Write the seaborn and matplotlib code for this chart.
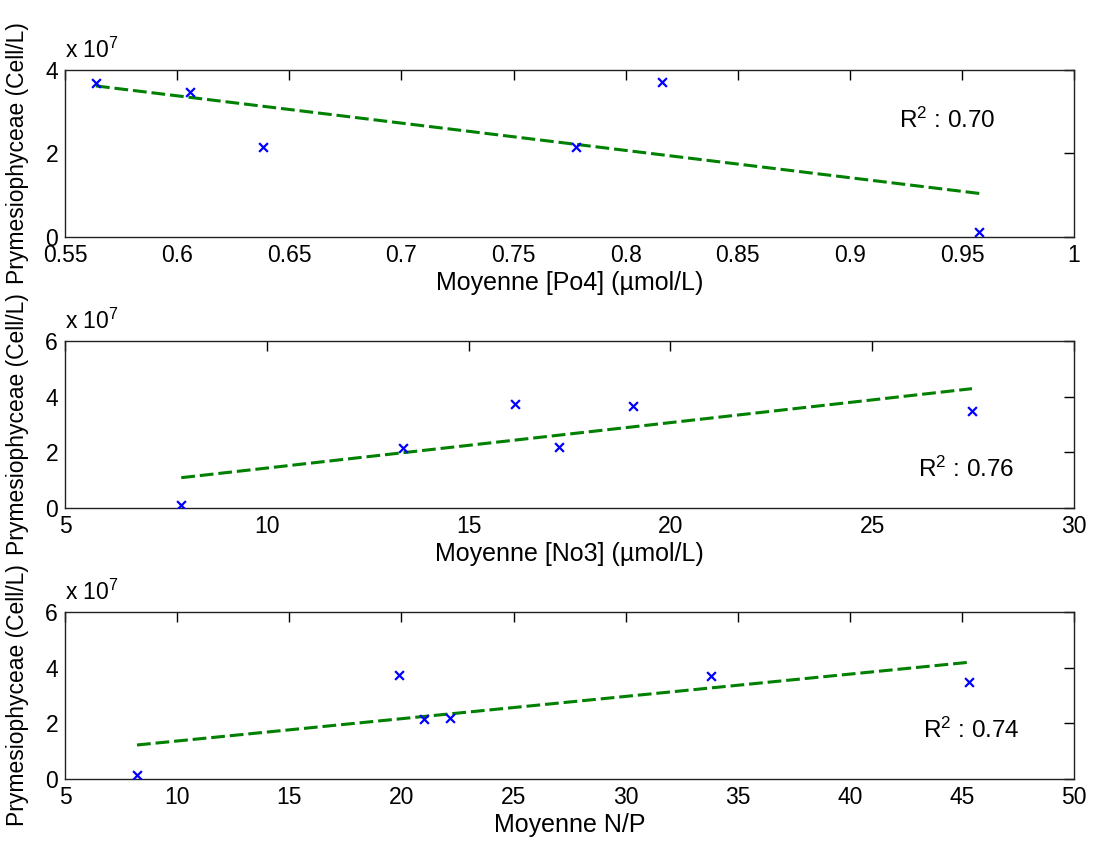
import numpy as np
import matplotlib
matplotlib.use("Agg")
import matplotlib.pyplot as plt
import seaborn as sns
from matplotlib.ticker import FuncFormatter

# Data (cells/L)
po4 = [0.5638, 0.6057, 0.6383, 0.778, 0.8163, 0.9578]
cells_po4 = [3.68e7, 3.48e7, 2.16e7, 2.16e7, 3.72e7, 0.12e7]

no3 = [7.88, 13.37, 16.15, 17.25, 19.06, 27.47]
cells_no3 = [0.12e7, 2.16e7, 3.72e7, 2.19e7, 3.66e7, 3.47e7]

np_ratio = [8.21, 19.9, 21.0, 22.17, 33.82, 45.33]
cells_np = [0.155e7, 3.73e7, 2.16e7, 2.2e7, 3.69e7, 3.49e7]

xlabels = ["Moyenne [Po4] (\u00b5mol/L)", "Moyenne [No3] (\u00b5mol/L)", "Moyenne N/P"]
r2_labels = ["0.70", "0.76", "0.74"]
xticks_all = [np.arange(0.55, 1.001, 0.05), np.arange(5, 30.1, 5), np.arange(5, 50.1, 5)]
ymax_all = [4e7, 6e7, 6e7]
yticks_all = [[0, 2e7, 4e7], [0, 2e7, 4e7, 6e7], [0, 2e7, 4e7, 6e7]]
r2_pos = [(0.826, 0.70), (0.845, 0.23), (0.850, 0.29)]

sns.set_theme(style="white")
plt.rcParams['font.family'] = ['Liberation Sans', 'DejaVu Sans']
plt.rcParams['mathtext.fontset'] = 'custom'
plt.rcParams['mathtext.rm'] = 'Liberation Sans'
plt.rcParams['mathtext.it'] = 'Liberation Sans'
plt.rcParams['mathtext.default'] = 'regular'
plt.rcParams['text.color'] = 'black'
plt.rcParams['axes.labelcolor'] = 'black'

fig = plt.figure(figsize=(10.93, 8.48), dpi=100)
bottoms = [0.7205, 0.401, 0.0814]
fs = 16.5

datasets = [(po4, cells_po4), (no3, cells_no3), (np_ratio, cells_np)]
for i, (xv, yv) in enumerate(datasets):
    ax = fig.add_axes([0.0595, bottoms[i], 0.9232, 0.197])
    sns.regplot(x=np.array(xv), y=np.array(yv), ci=None, truncate=True,
                marker='x', ax=ax,
                scatter_kws=dict(color='blue', alpha=1, s=40, linewidths=1.6, zorder=3),
                line_kws=dict(color='green', lw=2.2, ls=(0, (4.5, 1.6))))
    xt = xticks_all[i]
    ax.set_xlim(xt[0], xt[-1])
    ax.set_xticks(xt)
    ax.set_ylim(0, ymax_all[i])
    ax.set_yticks(yticks_all[i])
    ax.xaxis.set_major_formatter(FuncFormatter(lambda v, p: f"{v:g}"))
    ax.yaxis.set_major_formatter(FuncFormatter(lambda v, p: f"{v / 1e7:g}"))
    ax.tick_params(direction='in', length=7, width=1, top=True, right=True,
                   labelsize=fs, colors='black', pad=5)
    for sp in ax.spines.values():
        sp.set_color('#222222')
        sp.set_linewidth(1)
    ax.set_xlabel(xlabels[i], fontsize=18, labelpad=3)
    ax.set_ylabel("Prymesiophyceae (Cell/L)", fontsize=fs)
    ax.yaxis.set_label_coords(-0.036, 0.5)
    ax.text(0, 1.04, "x 10$^7$", transform=ax.transAxes, fontsize=fs,
            ha='left', va='bottom')
    ax.text(r2_pos[i][0], r2_pos[i][1], "R$^2$ : " + r2_labels[i],
            transform=ax.transAxes, fontsize=17.5, ha='left', va='center')

fig.savefig("out.png", dpi=100, facecolor='white')
